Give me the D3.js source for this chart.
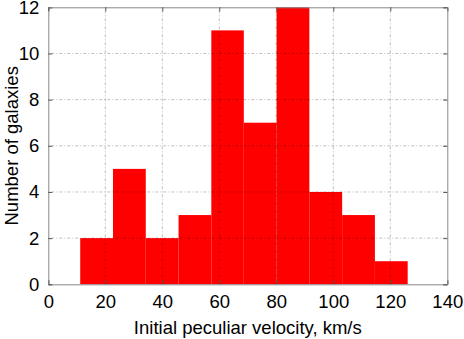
<!DOCTYPE html>
<html>
<head>
<meta charset="utf-8">
<script src="https://d3js.org/d3.v7.min.js"></script>
<style>
  body { margin: 0; background: #fff; }
  svg text { font-family: "Liberation Sans", Arial, sans-serif; fill: #000; }
</style>
</head>
<body>
<svg id="chart" width="464" height="339"></svg>
<script>
// Histogram bin edges (km/s) and counts
const binEdges = [11.2, 22.7, 34.2, 45.7, 57.2, 68.6, 80.1, 91.6, 103.1, 114.6, 126.1];
const counts = [2, 5, 2, 3, 11, 7, 12, 4, 3, 1];
const xTicks = [0, 20, 40, 60, 80, 100, 120, 140];
const yTicks = [0, 2, 4, 6, 8, 10, 12];

const bins = counts.map((c, i) => ({ x0: binEdges[i], x1: binEdges[i + 1], n: c }));

const margin = { top: 7.3, right: 16.7, bottom: 54.7, left: 48.3 };
const width = 464 - margin.left - margin.right;
const height = 339 - margin.top - margin.bottom;

const x = d3.scaleLinear().domain([0, 140]).range([0, width]);
const y = d3.scaleLinear().domain([0, 12]).range([height, 0]);

const svg = d3.select("#chart");
const g = svg.append("g")
  .attr("transform", `translate(${margin.left}, ${margin.top})`);

// Bars
g.selectAll(".bar")
  .data(bins)
  .enter()
  .append("rect")
  .attr("class", "bar")
  .attr("x", d => x(d.x0))
  .attr("y", d => y(d.n))
  .attr("width", d => x(d.x1) - x(d.x0))
  .attr("height", d => y(0) - y(d.n))
  .attr("fill", "#ff0000");

// Grid lines (on top of the bars, like the original)
const grid = g.append("g").attr("class", "grid");
grid.selectAll(".vgrid")
  .data(xTicks.slice(1, -1))
  .enter()
  .append("line")
  .attr("x1", d => x(d)).attr("x2", d => x(d))
  .attr("y1", 0).attr("y2", height)
  .attr("stroke", "#000")
  .attr("stroke-opacity", 0.25)
  .attr("stroke-dasharray", "1,2,3,2");
grid.selectAll(".hgrid")
  .data(yTicks.slice(1, -1))
  .enter()
  .append("line")
  .attr("x1", 0).attr("x2", width)
  .attr("y1", d => y(d)).attr("y2", d => y(d))
  .attr("stroke", "#000")
  .attr("stroke-opacity", 0.25)
  .attr("stroke-dasharray", "1,2,3,2");

// Axes with inward ticks
const xAxis = d3.axisBottom(x).tickValues(xTicks).tickSize(-4).tickPadding(11);
const yAxis = d3.axisLeft(y).tickValues(yTicks).tickSize(-4).tickPadding(9);

g.append("g")
  .attr("class", "x axis")
  .attr("transform", `translate(0, ${height})`)
  .call(xAxis);
g.append("g")
  .attr("class", "y axis")
  .call(yAxis);
g.append("g")
  .attr("class", "x axis top")
  .call(d3.axisTop(x).tickValues(xTicks).tickSize(-4).tickFormat(""));
g.append("g")
  .attr("class", "y axis right")
  .attr("transform", `translate(${width}, 0)`)
  .call(d3.axisRight(y).tickValues(yTicks).tickSize(-4).tickFormat(""));

g.selectAll(".axis path").attr("stroke", "#888").attr("stroke-width", 1);
g.selectAll(".axis line").attr("stroke", "#555");
g.selectAll(".axis text").attr("font-size", "18.5px").attr("fill", "#000");

// Axis titles
svg.append("text")
  .attr("x", margin.left + width / 2)
  .attr("y", 334)
  .attr("text-anchor", "middle")
  .attr("font-size", "18.5px")
  .text("Initial peculiar velocity, km/s");

svg.append("text")
  .attr("transform", `translate(18, ${margin.top + height / 2}) rotate(-90)`)
  .attr("text-anchor", "middle")
  .attr("font-size", "18.5px")
  .text("Number of galaxies");
</script>
</body>
</html>
